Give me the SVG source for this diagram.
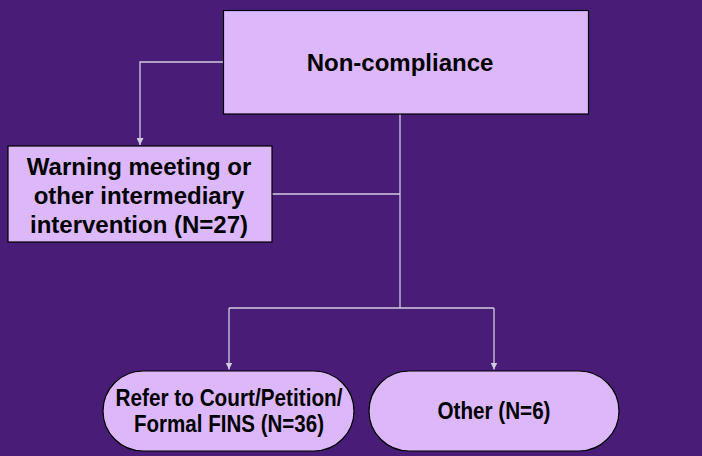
<svg xmlns="http://www.w3.org/2000/svg" width="702" height="456" viewBox="0 0 702 456">
<style>
.box{fill:#dcb8fb;stroke:#000;stroke-width:1.2}
.t{font-family:"Liberation Sans",Arial,sans-serif;font-weight:bold;font-size:24px;fill:#000;text-anchor:middle}
.c{fill:none;stroke:#d0cce0;stroke-width:1.3}
</style>
<defs>
<marker id="ah" viewBox="0 0 10 10" refX="10" refY="5" markerWidth="7" markerHeight="7" markerUnits="userSpaceOnUse" orient="auto">
<path d="M0,0 L10,5 L0,10 Z" fill="#d0cce0"/>
</marker>
</defs>
<rect width="702" height="456" fill="#491d77"/>
<g id="connectors">
<path class="c" d="M223.5,62 H140 V145" marker-end="url(#ah)"/>
<path class="c" d="M400,114 V308"/>
<path class="c" d="M272,194 H400"/>
<path class="c" d="M229,308 H494"/>
<path class="c" d="M229,308 V369.5" marker-end="url(#ah)"/>
<path class="c" d="M494,308 V369.5" marker-end="url(#ah)"/>
</g>
<g id="noncompliance">
<rect class="box" x="223.5" y="10.5" width="365" height="103.5"/>
<text class="t" x="400" y="71">Non-compliance</text>
</g>
<g id="warning">
<rect class="box" x="8" y="146" width="264" height="96"/>
<text class="t" x="139" y="175">Warning meeting or</text>
<text class="t" x="139" y="204">other intermediary</text>
<text class="t" x="139" y="233">intervention (N=27)</text>
</g>
<g id="refer">
<rect class="box" x="103" y="371" width="251" height="80" rx="40" ry="40"/>
<text class="t" x="229" y="406" textLength="227" lengthAdjust="spacingAndGlyphs">Refer to Court/Petition/</text>
<text class="t" x="229" y="432" textLength="190" lengthAdjust="spacingAndGlyphs">Formal FINS (N=36)</text>
</g>
<g id="other">
<rect class="box" x="369" y="371" width="250" height="80" rx="40" ry="40"/>
<text class="t" x="494" y="419" textLength="113" lengthAdjust="spacingAndGlyphs">Other (N=6)</text>
</g>
</svg>
